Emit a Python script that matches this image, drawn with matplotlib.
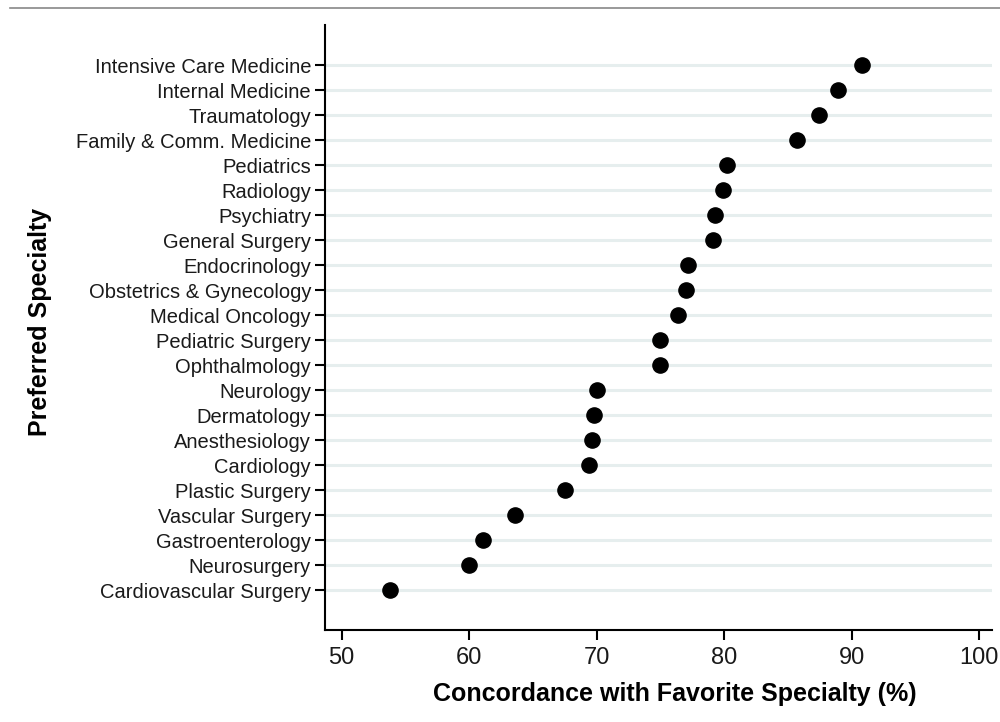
import matplotlib
matplotlib.use('Agg')
import matplotlib.pyplot as plt
from matplotlib.lines import Line2D
import numpy as np

plt.rcParams['font.family'] = ['Liberation Sans', 'DejaVu Sans']

specialties = ['Intensive Care Medicine', 'Internal Medicine', 'Traumatology',
               'Family & Comm. Medicine', 'Pediatrics', 'Radiology', 'Psychiatry',
               'General Surgery', 'Endocrinology', 'Obstetrics & Gynecology',
               'Medical Oncology', 'Pediatric Surgery', 'Ophthalmology', 'Neurology',
               'Dermatology', 'Anesthesiology', 'Cardiology', 'Plastic Surgery',
               'Vascular Surgery', 'Gastroenterology', 'Neurosurgery',
               'Cardiovascular Surgery']
concordance = [90.8, 88.9, 87.4, 85.7, 80.2, 79.9, 79.3, 79.1, 77.2, 77.0,
               76.4, 75.0, 75.0, 70.0, 69.8, 69.6, 69.4, 67.5, 63.6, 61.1,
               60.0, 53.8]
xticks = [50, 60, 70, 80, 90, 100]

n = len(specialties)
ypos = np.arange(n, 0, -1)

fig = plt.figure(figsize=(10, 7.22), dpi=100)
ax = fig.add_axes([0.325, 0.127, 0.667, 0.838])

for y in ypos:
    ax.axhline(y, color='#e6eeee', lw=2.2, zorder=1)
ax.scatter(concordance, ypos, s=120, color='black', zorder=3)

ax.set_xlim(48.7, 101)
ax.set_ylim(-0.6, n + 1.6)
ax.set_yticks(ypos)
ax.set_yticklabels(specialties, fontsize=14.5, color='#1a1a1a')
ax.set_xticks(xticks)
ax.set_xticklabels([str(t) for t in xticks], fontsize=17, color='#1a1a1a')
ax.tick_params(axis='y', length=7, width=1.5, pad=3)
ax.tick_params(axis='x', length=7, width=1.5, pad=5)

ax.spines['top'].set_visible(False)
ax.spines['right'].set_visible(False)
ax.spines['left'].set_linewidth(1.5)
ax.spines['bottom'].set_linewidth(1.5)

ax.set_xlabel('Concordance with Favorite Specialty (%)', fontsize=18,
              fontweight='bold')
ax.set_ylabel('Preferred Specialty', fontsize=18, fontweight='bold')
ax.xaxis.set_label_coords(0.525, -0.085)
ax.yaxis.set_label_coords(-0.41, 0.51)

fig.add_artist(Line2D([0.01, 1.0], [0.989, 0.989], color='#888888', lw=1.2))

fig.savefig('out.png', dpi=100)
